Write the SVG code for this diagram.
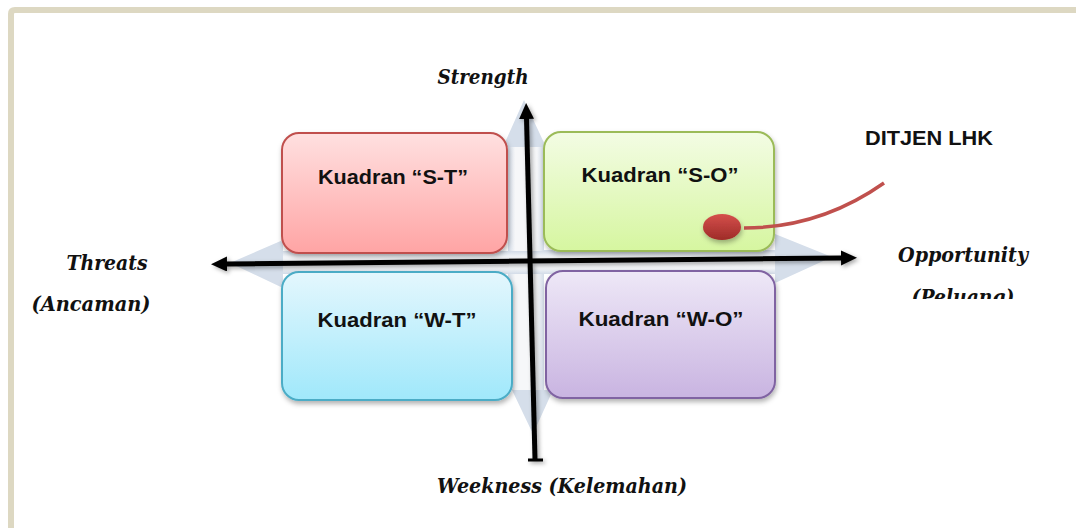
<svg xmlns="http://www.w3.org/2000/svg" width="1076" height="528" viewBox="0 0 1076 528">
<style>
.lbl{font-family:"DejaVu Serif","Liberation Serif",serif;font-weight:bold;font-style:italic;font-size:21px;fill:#111}
.qt{font-family:"Liberation Sans","DejaVu Sans",sans-serif;font-weight:bold;font-size:21px;fill:#111}
.box{stroke-width:2}
.axis{stroke:#000;stroke-width:5;fill:none}
</style>
<defs>
<linearGradient id="gST" x1="0" y1="0" x2="0" y2="1"><stop offset="0" stop-color="#ffe0e0"/><stop offset="1" stop-color="#ffa4a4"/></linearGradient>
<linearGradient id="gSO" x1="0" y1="0" x2="0" y2="1"><stop offset="0" stop-color="#f3fce4"/><stop offset="1" stop-color="#d6f6a0"/></linearGradient>
<linearGradient id="gWT" x1="0" y1="0" x2="0" y2="1"><stop offset="0" stop-color="#e4f7fd"/><stop offset="1" stop-color="#a0e8fb"/></linearGradient>
<linearGradient id="gWO" x1="0" y1="0" x2="0" y2="1"><stop offset="0" stop-color="#eee8f7"/><stop offset="1" stop-color="#c9b4e1"/></linearGradient>
<linearGradient id="gDot" x1="0" y1="0" x2="0" y2="1"><stop offset="0" stop-color="#d5504c"/><stop offset="1" stop-color="#9e2b28"/></linearGradient>
<linearGradient id="gV" x1="0" y1="0" x2="1" y2="0"><stop offset="0" stop-color="#d3dce8"/><stop offset="0.2" stop-color="#f6f7f9"/><stop offset="0.8" stop-color="#f6f7f9"/><stop offset="1" stop-color="#d3dce8"/></linearGradient>
<linearGradient id="gH" x1="0" y1="0" x2="0" y2="1"><stop offset="0" stop-color="#d3dce8"/><stop offset="0.25" stop-color="#f3f5f8"/><stop offset="0.75" stop-color="#f3f5f8"/><stop offset="1" stop-color="#d3dce8"/></linearGradient>
<filter id="sh" x="-10%" y="-10%" width="130%" height="140%"><feDropShadow dx="1" dy="3" stdDeviation="2.5" flood-color="#000" flood-opacity="0.3"/></filter>
<filter id="ash" x="-10%" y="-10%" width="120%" height="120%"><feDropShadow dx="2" dy="2" stdDeviation="2" flood-color="#000" flood-opacity="0.35"/></filter>
<marker id="ah" markerUnits="userSpaceOnUse" markerWidth="18" markerHeight="16" refX="1" refY="7.5" orient="auto-start-reverse"><path d="M0,0 L16,7.5 L0,15 z" fill="#000"/></marker>
<clipPath id="clipP"><rect x="880" y="270" width="190" height="29"/></clipPath>
</defs>
<rect width="1076" height="528" fill="#fff"/>
<path d="M11,528 V14 Q11,10 15,10 H1076" fill="none" stroke="#ddd8c2" stroke-width="6"/>
<g id="background-arrows">
<polygon points="524,100 546,147 542,147 542,250 775,250 775,234 832,257 775,283 775,273 544,273 544,390 553,390 533,434 512,390 509,390 509,274 283,274 283,288 230,263 283,240 283,252 508,252 508,147 503,147" fill="#d5deea"/>
<rect x="508" y="147" width="36" height="243" fill="url(#gV)"/>
<rect x="283" y="251" width="492" height="23" fill="url(#gH)"/>
</g>
<g id="node-st"><rect class="box" x="282" y="133" width="225" height="120" rx="17" fill="url(#gST)" stroke="#c0504d" filter="url(#sh)"/><text class="qt" x="393" y="184" text-anchor="middle" textLength="150" lengthAdjust="spacingAndGlyphs">Kuadran “S-T”</text></g>
<g id="node-so"><rect class="box" x="544" y="132" width="230" height="119" rx="17" fill="url(#gSO)" stroke="#9bbb59" filter="url(#sh)"/><text class="qt" x="660" y="182" text-anchor="middle" textLength="157" lengthAdjust="spacingAndGlyphs">Kuadran “S-O”</text></g>
<g id="node-wt"><rect class="box" x="282" y="272" width="230" height="128" rx="17" fill="url(#gWT)" stroke="#4bacc6" filter="url(#sh)"/><text class="qt" x="397" y="327" text-anchor="middle" textLength="159" lengthAdjust="spacingAndGlyphs">Kuadran “W-T”</text></g>
<g id="node-wo"><rect class="box" x="546" y="271" width="229" height="127" rx="17" fill="url(#gWO)" stroke="#8064a2" filter="url(#sh)"/><text class="qt" x="661" y="326" text-anchor="middle" textLength="165" lengthAdjust="spacingAndGlyphs">Kuadran “W-O”</text></g>
<g id="connectors">
<g filter="url(#ash)">
<line class="axis" x1="226" y1="264" x2="842" y2="258" marker-start="url(#ah)" marker-end="url(#ah)"/>
<line class="axis" x1="535" y1="459" x2="526.5" y2="118" marker-end="url(#ah)"/>
<line x1="528" y1="460" x2="543" y2="460" stroke="#000" stroke-width="3"/>
</g>
<path d="M744,228 Q820,228 884,183" fill="none" stroke="#c0504d" stroke-width="3.5"/>
</g>
<g id="node-dot"><ellipse cx="722" cy="227" rx="19" ry="13" fill="url(#gDot)" filter="url(#sh)"/></g>
<g id="labels">
<text class="lbl" x="483" y="84" text-anchor="middle" textLength="91" lengthAdjust="spacingAndGlyphs">Strength</text>
<text class="lbl" x="107" y="270" text-anchor="middle" textLength="81" lengthAdjust="spacingAndGlyphs">Threats</text>
<text class="lbl" x="91" y="311" text-anchor="middle" textLength="119" lengthAdjust="spacingAndGlyphs">(Ancaman)</text>
<text class="lbl" x="963" y="262" text-anchor="middle" textLength="130" lengthAdjust="spacingAndGlyphs">Opportunity</text>
<text class="lbl" x="963" y="304" text-anchor="middle" textLength="103" lengthAdjust="spacingAndGlyphs" clip-path="url(#clipP)">(Peluang)</text>
<text class="lbl" x="562" y="493" text-anchor="middle" textLength="250" lengthAdjust="spacingAndGlyphs">Weekness (Kelemahan)</text>
<text class="qt" x="929" y="145" text-anchor="middle" textLength="128" lengthAdjust="spacingAndGlyphs">DITJEN LHK</text>
</g>
</svg>
